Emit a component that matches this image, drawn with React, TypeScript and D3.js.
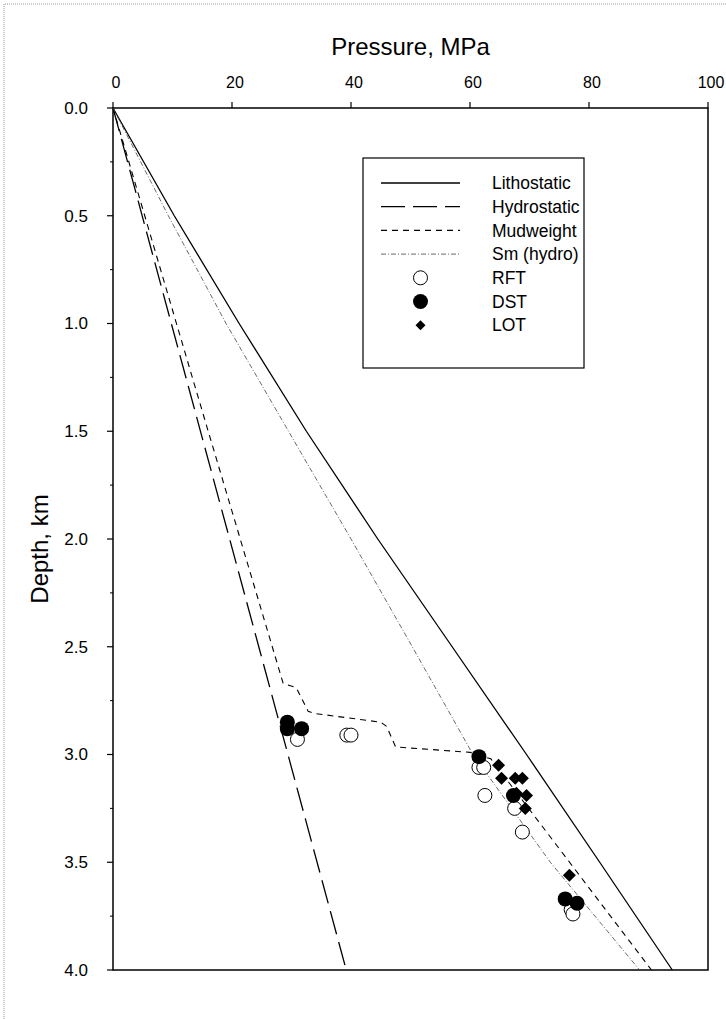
import React from 'react'
import * as d3 from 'd3'

// depth (km), pressure (MPa)
const lithostatic: [number, number][] = [
  [0, 0], [0.5, 10.3], [1, 21.2], [1.5, 32.5], [2, 44.5], [2.5, 57], [3, 69.5], [3.5, 81.8], [4, 94]
]
const hydrostatic: [number, number][] = [[0, 0], [4, 39.2]]
const mudweight: [number, number][] = [
  [0, 0], [1.5, 16], [2.67, 28.6], [2.69, 30.8], [2.8, 32.8], [2.81, 34], [2.85, 45],
  [2.87, 46], [2.965, 47.5], [2.99, 60], [3.02, 63.5], [3.31, 71.5], [4, 90.5]
]
const smHydro: [number, number][] = [
  [0, 0], [0.5, 9.3], [1, 19], [1.5, 29.5], [2, 40], [2.5, 50.3], [3, 60.5], [3.5, 73.5], [4, 88.5]
]

// pressure, depth
const rft: [number, number][] = [
  [31, 2.93], [39.3, 2.91], [40, 2.91], [61.5, 3.06], [62.3, 3.06], [62.5, 3.19],
  [67.5, 3.25], [68.8, 3.36], [77, 3.72], [77.3, 3.74]
]
const dst: [number, number][] = [
  [29.3, 2.85], [29.3, 2.88], [31.7, 2.88], [61.5, 3.01], [67.3, 3.19], [76, 3.67], [78, 3.69]
]
const lot: [number, number][] = [
  [64.8, 3.05], [65.3, 3.11], [67.6, 3.11], [68.8, 3.11], [67.8, 3.18], [69.5, 3.19],
  [69.3, 3.25], [76.7, 3.56]
]

const pressureTicks = [0, 20, 40, 60, 80, 100]
const depthTicks = [0, 0.5, 1, 1.5, 2, 2.5, 3, 3.5, 4]
const depthMinorTicks = [0.25, 0.75, 1.25, 1.75, 2.25, 2.75, 3.25, 3.75]

const legendItems = ['Lithostatic', 'Hydrostatic', 'Mudweight', 'Sm (hydro)', 'RFT', 'DST', 'LOT']

const W = 726
const H = 1019
const font = '"Liberation Sans", Arial, sans-serif'

const App: React.FC = () => {
  const x = d3.scaleLinear().domain([0, 100]).range([113, 708])
  const y = d3.scaleLinear().domain([0, 4]).range([108, 970])

  const line = d3.line<[number, number]>()
    .x(d => x(d[1]))
    .y(d => y(d[0]))

  const diamond = (cx: number, cy: number, r: number) =>
    `M${cx},${cy - r}L${cx + r},${cy}L${cx},${cy + r}L${cx - r},${cy}Z`

  const styles: Record<string, { dash: string; width: number; color: string }> = {
    Lithostatic: { dash: '', width: 1.3, color: '#000' },
    Hydrostatic: { dash: '24,8', width: 1.3, color: '#000' },
    Mudweight: { dash: '6,5', width: 1.1, color: '#000' },
    'Sm (hydro)': { dash: '5,2,1,2', width: 0.8, color: '#444' }
  }

  const lx0 = 381, lx1 = 460, ltx = 492, ly0 = 183, lstep = 23.7

  return (
    <div style={{ position: 'absolute', left: 0, top: 0 }}>
      <svg width={W} height={H} style={{ display: 'block', background: '#fff' }} fontFamily={font}>
        {/* scanned frame */}
        <path d={`M4,${H} L4,4 L${W},4`} fill="none" stroke="#999" strokeWidth={1} strokeDasharray="1,1" />

        <text x={(x(0) + x(100)) / 2} y={55} textAnchor="middle" fontSize={24}>Pressure, MPa</text>
        <text transform={`translate(48,${(y(0) + y(4)) / 2 + 10}) rotate(-90)`} textAnchor="middle" fontSize={24}>Depth, km</text>

        {/* plot frame */}
        <rect x={x(0)} y={y(0)} width={x(100) - x(0)} height={y(4) - y(0)} fill="none" stroke="#000" strokeWidth={1.5} />

        {pressureTicks.map(t => (
          <g key={'px' + t}>
            <line x1={x(t)} x2={x(t)} y1={y(0)} y2={y(0) - 6} stroke="#000" strokeWidth={1.2} />
            <text x={x(t) + 3} y={88} textAnchor="middle" fontSize={16}>{t}</text>
          </g>
        ))}
        {depthTicks.map(t => (
          <g key={'dy' + t}>
            <line x1={x(0)} x2={x(0) - 6} y1={y(t)} y2={y(t)} stroke="#000" strokeWidth={1.2} />
            <text x={88} y={y(t)} dy="0.35em" textAnchor="end" fontSize={17}>{t.toFixed(1)}</text>
          </g>
        ))}
        {depthMinorTicks.map(t => (
          <line key={'dm' + t} x1={x(0)} x2={x(0) - 3} y1={y(t)} y2={y(t)} stroke="#000" strokeWidth={1} />
        ))}

        <path d={line(lithostatic) || ''} fill="none" stroke="#000" strokeWidth={1.3} />
        <path d={line(hydrostatic) || ''} fill="none" stroke="#000" strokeWidth={1.3} strokeDasharray="24,8" />
        <path d={line(mudweight) || ''} fill="none" stroke="#000" strokeWidth={1.1} strokeDasharray="6,5" />
        <path d={line(smHydro) || ''} fill="none" stroke="#444" strokeWidth={0.8} strokeDasharray="5,2,1,2" />

        {rft.map((d, i) => (
          <circle key={'r' + i} cx={x(d[0])} cy={y(d[1])} r={7} fill="#fff" stroke="#000" strokeWidth={1} />
        ))}
        {dst.map((d, i) => (
          <circle key={'d' + i} cx={x(d[0])} cy={y(d[1])} r={7.5} fill="#000" />
        ))}
        {lot.map((d, i) => (
          <path key={'l' + i} d={diamond(x(d[0]), y(d[1]), 6.5)} fill="#000" />
        ))}

        {/* legend */}
        <rect x={363} y={158} width={221} height={210} fill="#fff" stroke="#000" strokeWidth={1.2} />
        {legendItems.map((name, i) => {
          const cy = ly0 + i * lstep
          const cx = (lx0 + lx1) / 2
          const s = styles[name]
          return (
            <g key={name}>
              {s && <line x1={lx0} x2={lx1} y1={cy} y2={cy} stroke={s.color} strokeWidth={s.width} strokeDasharray={s.dash} />}
              {name === 'RFT' && <circle cx={cx} cy={cy} r={7} fill="#fff" stroke="#000" strokeWidth={1} />}
              {name === 'DST' && <circle cx={cx} cy={cy} r={7.5} fill="#000" />}
              {name === 'LOT' && <path d={diamond(cx, cy, 5)} fill="#000" />}
              <text x={ltx} y={cy} dy="0.35em" fontSize={17.5}>{name}</text>
            </g>
          )
        })}
      </svg>
    </div>
  )
}

export default App
